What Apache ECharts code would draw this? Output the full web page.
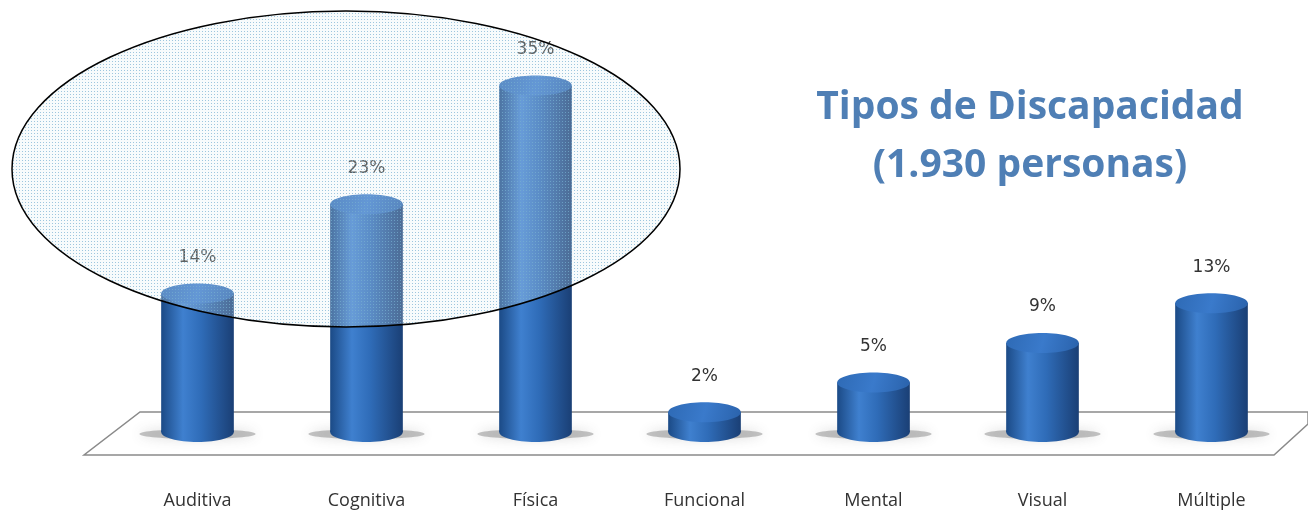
<!DOCTYPE html>
<html>
<head>
<meta charset="utf-8">
<script src="https://cdn.jsdelivr.net/npm/echarts@6/dist/echarts.min.js"></script>
<style>
  html, body { margin: 0; padding: 0; background: #fff; }
  #chart { width: 1308px; height: 512px; }
</style>
</head>
<body>
<div id="chart"></div>
<script>
var categories = ['Auditiva', 'Cognitiva', 'Física', 'Funcional', 'Mental', 'Visual', 'Múltiple'];
var percents = [14, 23, 35, 2, 5, 9, 13];
var titleLines = ['Tipos de Discapacidad', '(1.930 personas)'];

var chart = echarts.init(document.getElementById('chart'));

// cylinder drawn from the data through the axis scales
function renderCylinder(params, api) {
  var x = api.value(0);
  var v = api.value(1);
  var base = api.coord([x, 0]);
  var top = api.coord([x, v]);
  var rx = api.size([1, 0])[0] * 0.215;
  var ry = 10;
  var bodyGrad = new echarts.graphic.LinearGradient(0, 0, 1, 0, [
    {offset: 0, color: '#1b4a86'},
    {offset: 0.3, color: '#3f80cf'},
    {offset: 0.55, color: '#2f6cb8'},
    {offset: 1, color: '#1a3f75'}
  ]);
  var topGrad = new echarts.graphic.LinearGradient(0, 0, 1, 1, [
    {offset: 0, color: '#2e6ab5'},
    {offset: 0.5, color: '#3a7acb'},
    {offset: 1, color: '#2a62ab'}
  ]);
  return {
    type: 'group',
    children: [
      {
        type: 'ellipse',
        shape: {cx: base[0], cy: base[1] + 2, rx: rx * 1.6, ry: 5},
        style: {fill: 'rgba(90,90,90,0.35)', shadowBlur: 12, shadowColor: 'rgba(80,80,80,0.6)'}
      },
      {
        type: 'ellipse',
        shape: {cx: base[0], cy: base[1], rx: rx, ry: ry},
        style: {fill: bodyGrad}
      },
      {
        type: 'rect',
        shape: {x: base[0] - rx, y: top[1], width: rx * 2, height: base[1] - top[1]},
        style: {fill: bodyGrad}
      },
      {
        type: 'ellipse',
        shape: {cx: top[0], cy: top[1], rx: rx, ry: ry},
        style: {fill: topGrad}
      },
      {
        type: 'text',
        style: {
          text: v + '%',
          x: top[0],
          y: top[1] - 36,
          align: 'center',
          verticalAlign: 'middle',
          fill: '#333',
          font: '17px "DejaVu Sans", sans-serif'
        }
      }
    ]
  };
}

// dotted fill for the highlight ellipse
var dot = document.createElement('canvas');
dot.width = 3; dot.height = 3;
var dctx = dot.getContext('2d');
dctx.fillStyle = 'rgba(225,238,245,0.25)';
dctx.fillRect(0, 0, 3, 3);
dctx.fillStyle = 'rgba(120,175,210,0.7)';
dctx.fillRect(1, 1, 1, 1);

var option = {
  animation: false,
  backgroundColor: '#ffffff',
  grid: {left: 113, right: 12, top: 36, bottom: 80},
  xAxis: {
    type: 'category',
    data: categories,
    axisLine: {show: false},
    axisTick: {show: false},
    axisLabel: {
      margin: 60,
      color: '#333',
      fontSize: 18,
      fontFamily: '"Open Sans", "Liberation Sans", sans-serif'
    }
  },
  yAxis: {
    type: 'value',
    min: 0,
    max: 40,
    show: false,
    splitLine: {show: false}
  },
  graphic: [
    {
      type: 'polygon',
      z: 0,
      shape: {points: [[140, 412], [1308, 412], [1308, 424], [1274, 455], [84, 455]]},
      style: {fill: '#fff', stroke: '#8a8a8a', lineWidth: 1.5}
    },
    {
      type: 'ellipse',
      z: 100,
      shape: {cx: 346, cy: 169, rx: 334, ry: 158},
      style: {fill: {image: dot, repeat: 'repeat'}, stroke: '#000', lineWidth: 1.5}
    },
    {
      type: 'text',
      z: 100,
      x: 1030,
      y: 108,
      style: {
        text: titleLines[0],
        align: 'center',
        verticalAlign: 'middle',
        fill: '#4f7fb5',
        font: 'bold 39px "Open Sans", "Noto Sans", sans-serif'
      }
    },
    {
      type: 'text',
      z: 100,
      x: 1030,
      y: 166,
      style: {
        text: titleLines[1],
        align: 'center',
        verticalAlign: 'middle',
        fill: '#4f7fb5',
        font: 'bold 39px "Open Sans", "Noto Sans", sans-serif'
      }
    }
  ],
  series: [{
    type: 'custom',
    z: 10,
    renderItem: renderCylinder,
    encode: {x: 0, y: 1},
    data: percents.map(function (p, i) { return [i, p]; })
  }]
};

chart.setOption(option);
</script>
</body>
</html>
